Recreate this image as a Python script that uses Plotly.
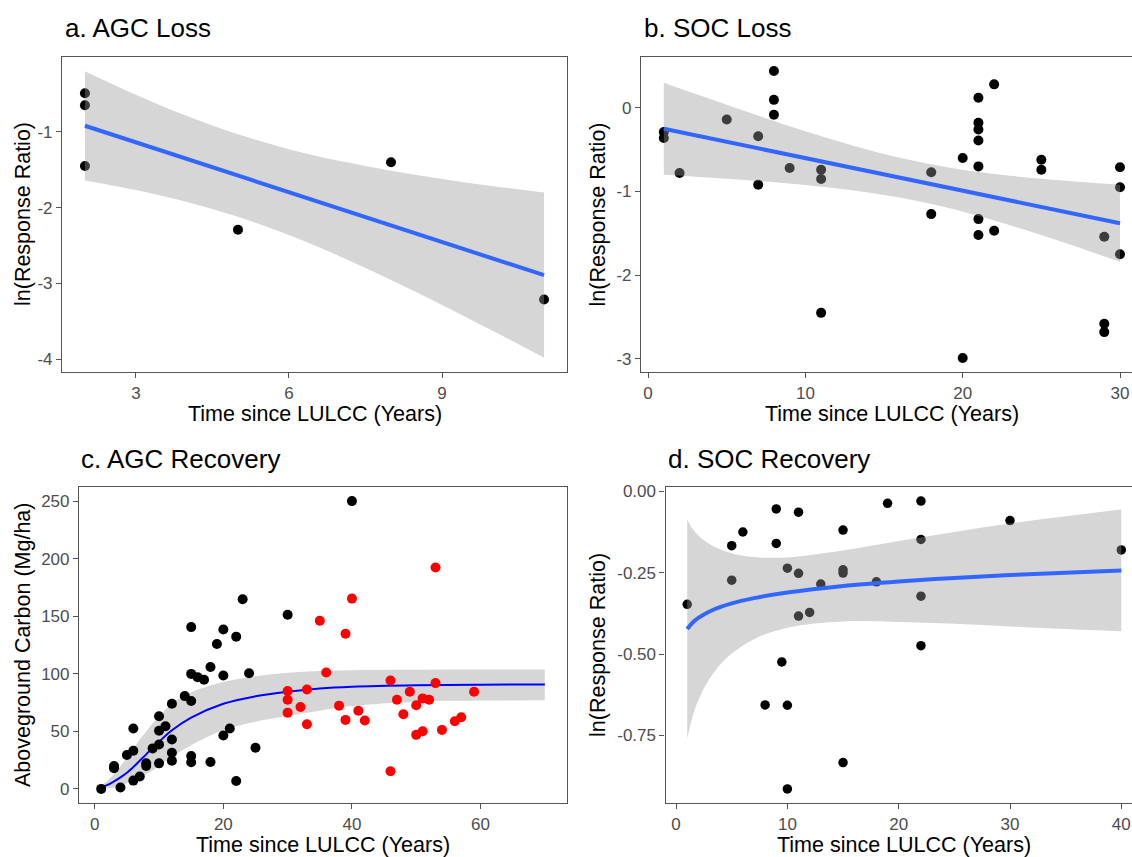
import plotly.graph_objects as go

FONT = "Liberation Sans, Arial, Helvetica, sans-serif"
W, H = 1132, 857

# ---------------- Data ----------------
# a. AGC Loss
a_x = [2, 2, 2, 5, 8, 11]
a_y = [-0.49, -0.65, -1.45, -2.29, -1.40, -3.21]
a_fit_x = [2, 11]
a_fit_y = [-0.92, -2.89]
a_band_x = [2, 3, 4, 5, 6, 7, 8, 9, 10, 11]
a_band_lo = [-1.64, -1.767, -1.924, -2.121, -2.361, -2.642, -2.953, -3.283, -3.626, -3.979]
a_band_hi = [-0.20, -0.511, -0.792, -1.033, -1.229, -1.386, -1.513, -1.621, -1.716, -1.801]

# b. SOC Loss
b_x = [1, 1, 2, 5, 7, 7, 8, 8, 8, 9, 11, 11, 11, 18, 18, 20, 20,
       21, 21, 21, 21, 21, 21, 21, 22, 22, 25, 25, 29, 29, 29, 30, 30, 30]
b_y = [-0.29, -0.36, -0.78, -0.14, -0.34, -0.92, 0.44, 0.095, -0.083, -0.72,
       -0.74, -0.85, -2.45, -0.77, -1.27, -0.60, -2.99,
       0.12, -0.18, -0.26, -0.39, -0.70, -1.33, -1.52, 0.28, -1.47,
       -0.62, -0.74, -1.54, -2.58, -2.68, -0.71, -0.95, -1.75]
b_fit_x = [1, 30]
b_fit_y = [-0.25, -1.38]
b_band_x = [1, 3, 5, 7, 10, 13, 16, 19, 22, 25, 28, 30]
b_band_lo = [-0.80, -0.823, -0.847, -0.875, -0.922, -0.984, -1.072, -1.192, -1.346, -1.521, -1.710, -1.840]
b_band_hi = [0.30, 0.167, 0.036, -0.093, -0.280, -0.451, -0.598, -0.711, -0.791, -0.848, -0.894, -0.920]

# c. AGC Recovery
c_black_x = [1, 3, 3, 4, 5, 6, 6, 6, 7, 8, 8, 9, 10, 10, 10, 10, 11, 12, 12, 12, 12,
             14, 15, 15, 15, 15, 15, 16, 17, 18, 18, 19, 20, 20, 20, 21, 22, 22, 23,
             24, 25, 30, 40]
c_black_y = [0, 19.9, 17.9, 1.2, 29.4, 33.2, 52.5, 7.2, 10.7, 22.2, 19.9, 35.2,
             63.1, 50.5, 38.6, 22.2, 54.5, 74.1, 43.0, 31.4, 24.5,
             80.7, 140.7, 100.0, 76.4, 28.5, 23.1, 97.2, 94.9, 106.0, 23.4, 126.0,
             138.7, 98.6, 46.4, 52.5, 132.4, 6.9, 165.0, 100.6, 35.8, 151.4, 250.3]
c_red_x = [30, 30, 30, 32, 33, 33, 35, 36, 38, 39, 39, 40, 41, 42, 46, 46, 47, 48,
           49, 50, 50, 51, 51, 52, 53, 53, 54, 56, 57, 59]
c_red_y = [85.1, 77.6, 66.3, 71.2, 86.5, 56.2, 146.2, 101.2, 72.4, 135.0, 60.0,
           165.5, 68.0, 59.4, 94.3, 15.3, 77.6, 64.9, 84.5, 72.7, 47.0, 78.7, 50.2,
           77.6, 192.6, 92.0, 51.3, 58.8, 62.3, 84.5]
c_fit_x = [1, 2, 3, 4, 5, 6, 7, 8, 9, 10, 12, 15, 20, 25, 30, 35, 40, 50, 60, 70]
c_fit_y = [1.5, 3.5, 6.5, 10, 14, 19, 24.5, 30, 36, 41, 51, 62, 74, 80.5, 84.5,
           87.3, 88.8, 90.1, 90.6, 90.8]
c_band_hi = [3, 7, 13, 20, 27, 35, 43, 50, 57, 63, 74, 84, 93, 98, 101, 102.5,
             103.2, 103.6, 103.8, 103.8]
c_band_lo = [0, 0.5, 1.5, 3, 5, 7, 10, 13, 16, 20, 28, 38, 51, 58.5, 63.5, 68,
             72, 75.8, 76.8, 77]

# d. SOC Recovery
d_x = [1, 5, 5, 6, 8, 9, 9, 9.5, 10, 10, 10, 11, 11, 11, 12, 13, 15, 15, 15, 15,
       18, 19, 22, 22, 22, 22, 30, 40]
d_y = [-0.347, -0.167, -0.273, -0.125, -0.656, -0.054, -0.160, -0.524, -0.236,
       -0.657, -0.914, -0.064, -0.252, -0.383, -0.372, -0.285, -0.119, -0.241,
       -0.251, -0.833, -0.278, -0.037, -0.030, -0.148, -0.322, -0.474, -0.090, -0.180]
d_fit_x = [1, 1.5, 2, 3, 4, 5, 7, 10, 15, 20, 25, 30, 35, 40]
d_fit_y = [-0.423, -0.403, -0.389, -0.369, -0.355, -0.344, -0.328, -0.311, -0.291,
           -0.277, -0.266, -0.257, -0.250, -0.243]
d_band_lo = [-0.759, -0.690, -0.642, -0.576, -0.531, -0.498, -0.454, -0.419,
             -0.400, -0.401, -0.407, -0.415, -0.423, -0.430]
d_band_hi = [-0.087, -0.116, -0.136, -0.162, -0.179, -0.190, -0.202, -0.203,
             -0.182, -0.153, -0.125, -0.099, -0.077, -0.056]

# tick labels
a_xticks = [3, 6, 9]
a_yticks = [-4, -3, -2, -1]
a_yticktext = ["-4", "-3", "-2", "-1"]
b_xticks = [0, 10, 20, 30]
b_yticks = [-3, -2, -1, 0]
b_yticktext = ["-3", "-2", "-1", "0"]
c_xticks = [0, 20, 40, 60]
c_yticks = [0, 50, 100, 150, 200, 250]
d_xticks = [0, 10, 20, 30, 40]
d_yticks = [-0.75, -0.5, -0.25, 0]
d_yticktext = ["-0.75", "-0.50", "-0.25", "0.00"]

titles = ["a. AGC Loss", "b. SOC Loss", "c. AGC Recovery", "d. SOC Recovery"]
x_title = "Time since LULCC (Years)"
y_titles = ["ln(Response Ratio)", "ln(Response Ratio)",
            "Aboveground Carbon (Mg/ha)", "ln(Response Ratio)"]

# ---------------- Styling ----------------
BAND = "rgba(153,153,153,0.4)"
SMOOTH = "#3366FF"
PT = 10

fig = go.Figure()


def pts(x, y, ax, color="black", size=PT):
    fig.add_trace(go.Scatter(x=x, y=y, mode="markers", xaxis=ax[0], yaxis=ax[1],
                             marker=dict(color=color, size=size, line=dict(width=0)),
                             showlegend=False, hoverinfo="skip"))


def band(x, lo, hi, ax):
    fig.add_trace(go.Scatter(x=x, y=lo, mode="lines", xaxis=ax[0], yaxis=ax[1],
                             line=dict(width=0, shape="spline"),
                             showlegend=False, hoverinfo="skip"))
    fig.add_trace(go.Scatter(x=x, y=hi, mode="lines", xaxis=ax[0], yaxis=ax[1],
                             line=dict(width=0, shape="spline"), fill="tonexty",
                             fillcolor=BAND, showlegend=False, hoverinfo="skip"))


def fitline(x, y, ax, color=SMOOTH, width=4):
    fig.add_trace(go.Scatter(x=x, y=y, mode="lines", xaxis=ax[0], yaxis=ax[1],
                             line=dict(color=color, width=width, shape="spline"),
                             showlegend=False, hoverinfo="skip"))


# panel a
pts(a_x, a_y, ("x", "y"))
band(a_band_x, a_band_lo, a_band_hi, ("x", "y"))
fitline(a_fit_x, a_fit_y, ("x", "y"))
# panel b
pts(b_x, b_y, ("x2", "y2"))
band(b_band_x, b_band_lo, b_band_hi, ("x2", "y2"))
fitline(b_fit_x, b_fit_y, ("x2", "y2"))
# panel c
band(c_fit_x, c_band_lo, c_band_hi, ("x3", "y3"))
fitline(c_fit_x, c_fit_y, ("x3", "y3"), color="#0000FF", width=2)
pts(c_black_x, c_black_y, ("x3", "y3"))
pts(c_red_x, c_red_y, ("x3", "y3"), color="#FF0000")
# panel d
pts(d_x, d_y, ("x4", "y4"), size=9.5)
band(d_fit_x, d_band_lo, d_band_hi, ("x4", "y4"))
fitline(d_fit_x, d_fit_y, ("x4", "y4"))

LINEC = "#555555"
TICKF = dict(family=FONT, size=17, color="#4D4D4D")


def xax(domain, rng, tickvals, anchor):
    return dict(domain=domain, range=rng, anchor=anchor, tickvals=tickvals,
                ticks="outside", ticklen=5, tickwidth=1.2, tickcolor=LINEC,
                showline=True, linecolor=LINEC, linewidth=1.2, mirror=True,
                showgrid=False, zeroline=False, tickfont=TICKF, fixedrange=True)


def yax(domain, rng, tickvals, ticktext, anchor, mirror=True):
    d = dict(domain=domain, range=rng, anchor=anchor, tickvals=tickvals,
             ticks="outside", ticklen=5, tickwidth=1.2, tickcolor=LINEC,
             showline=True, linecolor=LINEC, linewidth=1.2, mirror=mirror,
             showgrid=False, zeroline=False, tickfont=TICKF, fixedrange=True)
    if ticktext is not None:
        d["ticktext"] = ticktext
    return d


XA = [62 / W, 567 / W]
XB = [641 / W, 1.0]
XC = [79 / W, 567 / W]
XD = [665.5 / W, 1.0]
YT = [1 - 370 / H, 1 - 53 / H]
YB = [1 - 803 / H, 1 - 485 / H]

fig.update_layout(
    width=W, height=H, margin=dict(l=0, r=0, t=0, b=0),
    paper_bgcolor="white", plot_bgcolor="white",
    font=dict(family=FONT, color="black"),
    xaxis=xax(XA, [1.55, 11.45], a_xticks, "y"),
    yaxis=yax(YT, [-4.17, -0.01], a_yticks, a_yticktext, "x"),
    xaxis2=xax(XB, [-0.45, 30.763], b_xticks, "y2"),
    yaxis2=yax(YT, [-3.16, 0.61], b_yticks, b_yticktext, "x2", mirror=False),
    xaxis3=xax(XC, [-2.45, 73.45], c_xticks, "y3"),
    yaxis3=yax(YB, [-12.5, 262.8], c_yticks, None, "x3"),
    xaxis4=xax(XD, [-0.95, 40.96], d_xticks, "y4"),
    yaxis4=yax(YB, [-0.958, 0.014], d_yticks, d_yticktext, "x4", mirror=False),
)

ann = []
# panel titles
title_pos = [(63, 24), (642, 24), (79, 457.5), (666, 457.5)]
for t, (px, py) in zip(titles, title_pos):
    ann.append(dict(text=t, x=px / W, y=1 - py / H, xref="paper", yref="paper",
                    xanchor="left", yanchor="middle", showarrow=False,
                    font=dict(family=FONT, size=26, color="black")))
# x titles
for cx, cy in [((62 + 567) / 2, 412), ((641 + 1143) / 2, 412),
               ((79 + 567) / 2, 845), ((665.5 + 1143) / 2, 845)]:
    ann.append(dict(text=x_title, x=cx / W, y=1 - cy / H, xref="paper", yref="paper",
                    xanchor="center", yanchor="middle", showarrow=False,
                    font=dict(family=FONT, size=21.5, color="black")))
# y titles
for t, (cx, cy) in zip(y_titles, [(22.5, 211.5), (598, 211.5), (23, 644), (598, 644)]):
    ann.append(dict(text=t, x=cx / W, y=1 - cy / H, xref="paper", yref="paper",
                    xanchor="center", yanchor="middle", textangle=-90, showarrow=False,
                    font=dict(family=FONT, size=21.5, color="black")))
fig.update_layout(annotations=ann)

fig.write_html("out.html")
